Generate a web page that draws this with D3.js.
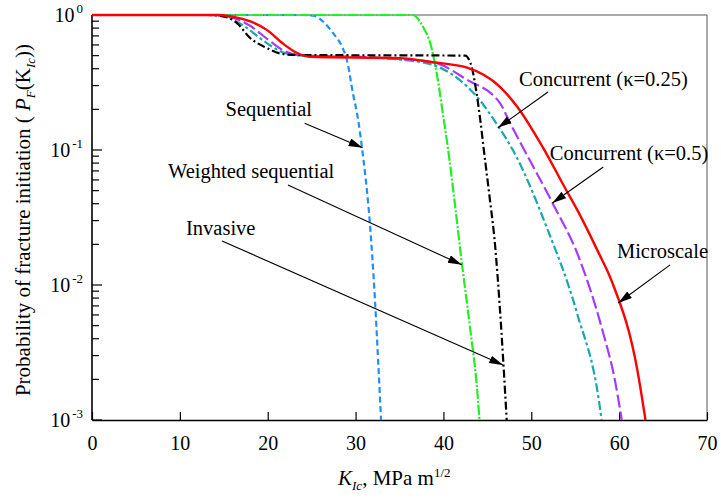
<!DOCTYPE html>
<html>
<head>
<meta charset="utf-8">
<script src="https://cdn.jsdelivr.net/npm/d3@7"></script>
<style>
  body { margin: 0; background: #fff; }
  svg { display: block; }
  text { font-family: "Liberation Serif", "Times New Roman", serif; fill: #000; }
</style>
</head>
<body>
<svg id="chart" width="721" height="500"></svg>
<script>
// fracture initiation probability vs toughness

const xTicks = [0, 10, 20, 30, 40, 50, 60, 70];
const yDecades = [1e-3, 1e-2, 1e-1, 1];
const yExponents = ["-3", "-2", "-1", "0"];

const sequentialK = [0, 24, 25.2, 26.5, 27.4, 28.5, 29, 29.7, 30.3, 30.8, 31.6, 32.2, 32.6, 32.9];
const sequentialP = [1, 1, 0.99, 0.87, 0.74, 0.575, 0.468, 0.263, 0.166, 0.0955, 0.0302, 0.0079, 0.0025, 0.001];

const weightedK = [0, 36.5, 37, 37.7, 38.5, 39.3, 40, 40.5, 41.3, 42.1, 43, 43.9, 44.1];
const weightedP = [1, 1, 0.955, 0.81, 0.62, 0.35, 0.174, 0.105, 0.04, 0.0145, 0.005, 0.0015, 0.001];

const invasiveK = [0, 13, 15, 16.5, 18, 19.9, 21.4, 23, 42.5, 42.9, 43.2, 43.7, 44.2, 44.6, 45.2, 45.9, 46.4, 46.8, 47.2];
const invasiveP = [1, 1, 0.977, 0.871, 0.676, 0.569, 0.519, 0.506, 0.5, 0.468, 0.417, 0.282, 0.166, 0.1, 0.0479, 0.019, 0.0071, 0.0028, 0.001];

const conc25K = [0, 13.5, 15.5, 17.5, 19.5, 21.5, 23.5, 30, 35, 38.8, 42.7, 44, 46.2, 47.9, 51.8, 55.2, 57.8, 58];
const conc25P = [1, 1, 0.955, 0.813, 0.646, 0.537, 0.501, 0.49, 0.468, 0.427, 0.295, 0.24, 0.151, 0.1, 0.0263, 0.0062, 0.00125, 0.001];

const conc50K = [0, 14, 16, 18, 20, 22, 24, 30, 35, 38.8, 42.7, 46.4, 47.6, 49.2, 52.4, 55.5, 58.2, 59.5, 60.3];
const conc50P = [1, 1, 0.955, 0.832, 0.661, 0.537, 0.501, 0.49, 0.472, 0.447, 0.331, 0.224, 0.158, 0.1, 0.0407, 0.0155, 0.00437, 0.002, 0.001];

const microK = [0, 14.5, 16.5, 18.5, 19.9, 21.7, 23.3, 24.8, 35, 38.8, 42.7, 46.4, 48.4, 51.3, 54, 55.2, 57.5, 59.2, 62.1, 63];
const microP = [1, 1, 0.955, 0.871, 0.776, 0.617, 0.525, 0.49, 0.479, 0.447, 0.407, 0.295, 0.209, 0.105, 0.0501, 0.0363, 0.0182, 0.0105, 0.00229, 0.001];

// label, text anchor [K,P], arrow start [K,P], arrow tip [K,P]
const noteLabels = ["Sequential", "Weighted sequential", "Invasive", "Concurrent (\u03ba=0.25)", "Concurrent (\u03ba=0.5)", "Microscale"];
const noteText = [[15.2, 0.18], [8.65, 0.062], [10.7, 0.0235], [48.6, 0.298], [52.1, 0.0843], [59.75, 0.0158]];
const noteFrom = [[24.2, 0.158], [22.3, 0.055], [14.8, 0.0212], [51.9, 0.269], [58.2, 0.0748], [65.8, 0.0141]];
const noteTo = [[30.8, 0.104], [42.1, 0.0141], [46.8, 0.00255], [46.2, 0.146], [52.4, 0.0405], [59.9, 0.00736]];

const series = [
  { k: sequentialK, p: sequentialP, color: "#1f8fff", dash: "6,3.5", width: 2.2 },
  { k: weightedK, p: weightedP, color: "#22ee22", dash: "10,2,2,2", width: 2.2 },
  { k: conc25K, p: conc25P, color: "#1aa9aa", dash: "9,3,3,3", width: 2.2 },
  { k: conc50K, p: conc50P, color: "#a33cff", dash: "13,4", width: 2.2 },
  { k: invasiveK, p: invasiveP, color: "#000000", dash: "8,3,2,3", width: 2.2 },
  { k: microK, p: microP, color: "#ff0000", dash: null, width: 2.4 }
];

const svg = d3.select("#chart");
const m = { left: 92, right: 707, top: 15, bottom: 420 };

const x = d3.scaleLinear().domain([0, 70]).range([m.left, m.right]);
const y = d3.scaleLog().domain([1e-3, 1]).range([m.bottom, m.top]);

const defs = svg.append("defs");
defs.append("clipPath").attr("id", "plot")
  .append("rect").attr("x", m.left).attr("y", m.top - 2).attr("width", m.right - m.left).attr("height", m.bottom - m.top + 2);

const marker = defs.append("marker")
  .attr("id", "head")
  .attr("markerUnits", "userSpaceOnUse")
  .attr("markerWidth", 15).attr("markerHeight", 10)
  .attr("refX", 14).attr("refY", 4)
  .attr("orient", "auto");
marker.append("path").attr("d", "M0,0L14,4L0,8Z").attr("fill", "#000");

// frame (top and right are thin)
svg.append("line").attr("x1", m.left).attr("x2", m.right).attr("y1", m.top).attr("y2", m.top)
  .attr("stroke", "#555").attr("stroke-width", 1);
svg.append("line").attr("x1", m.right).attr("x2", m.right).attr("y1", m.top).attr("y2", m.bottom)
  .attr("stroke", "#555").attr("stroke-width", 1);

// bottom axis, ticks pointing inward
const xAxis = svg.append("g")
  .attr("transform", `translate(0,${m.bottom})`)
  .call(d3.axisBottom(x).tickValues(xTicks).tickSizeInner(-8).tickSizeOuter(0).tickPadding(16));
xAxis.select(".domain").attr("stroke", "#000").attr("stroke-width", 1.6);
xAxis.selectAll(".tick line").attr("stroke-width", 1.2);
xAxis.selectAll("text").attr("font-size", 20).attr("font-family", "Liberation Serif");

// left axis with log minor ticks
const yMinor = [];
yDecades.slice(0, 3).forEach(d => { for (let j = 2; j <= 9; j++) yMinor.push(d * j); });
const yAxis = svg.append("g").attr("transform", `translate(${m.left},0)`);
yAxis.append("line").attr("x1", 0).attr("x2", 0).attr("y1", m.top).attr("y2", m.bottom)
  .attr("stroke", "#000").attr("stroke-width", 1.6);
yAxis.selectAll(".minor").data(yMinor).join("line")
  .attr("x1", 0).attr("x2", 7).attr("y1", d => y(d)).attr("y2", d => y(d))
  .attr("stroke", "#000").attr("stroke-width", 1.2);
yAxis.selectAll(".major").data(yDecades).join("line")
  .attr("x1", 0).attr("x2", 10).attr("y1", d => y(d)).attr("y2", d => y(d))
  .attr("stroke", "#000").attr("stroke-width", 1.2);
const yLab = yAxis.selectAll(".lab").data(yDecades).join("text")
  .attr("x", -9).attr("y", d => y(d) + 7).attr("text-anchor", "end").attr("font-size", 20);
yLab.append("tspan").text("10");
yLab.append("tspan").attr("dx", 2).attr("dy", -9).attr("font-size", 13).text((d, i) => yExponents[i]);

// curves
const line = d3.line()
  .x(d => x(d[0]))
  .y(d => y(d[1]))
  .curve(d3.curveMonotoneX);

const curves = svg.append("g").attr("clip-path", "url(#plot)");
series.forEach(s => {
  const pts = s.k.map((k, i) => [k, s.p[i]]);
  curves.append("path")
    .attr("d", line(pts))
    .attr("fill", "none")
    .attr("stroke", s.color)
    .attr("stroke-width", s.width)
    .attr("stroke-dasharray", s.dash)
    .attr("stroke-linejoin", "round");
});

// annotations
const notes = svg.append("g");
noteLabels.forEach((label, i) => {
  notes.append("text")
    .attr("x", x(noteText[i][0])).attr("y", y(noteText[i][1]))
    .attr("font-size", 20.5)
    .text(label);
  notes.append("line")
    .attr("x1", x(noteFrom[i][0])).attr("y1", y(noteFrom[i][1]))
    .attr("x2", x(noteTo[i][0])).attr("y2", y(noteTo[i][1]))
    .attr("stroke", "#000").attr("stroke-width", 1.1)
    .attr("marker-end", "url(#head)");
});

// axis titles
const xt = svg.append("text").attr("x", 338).attr("y", 485).attr("font-size", 21);
xt.append("tspan").attr("font-style", "italic").text("K");
xt.append("tspan").attr("font-style", "italic").attr("font-size", 13).attr("dy", 5).text("Ic");
xt.append("tspan").attr("dy", -5).text(", MPa m");
xt.append("tspan").attr("font-size", 13).attr("dy", -8).text("1/2");

const yt = svg.append("text")
  .attr("transform", "translate(30,220) rotate(-90)")
  .attr("text-anchor", "middle").attr("font-size", 21);
yt.append("tspan").text("Probability of fracture initiation ( ");
yt.append("tspan").attr("font-style", "italic").text("P");
yt.append("tspan").attr("font-style", "italic").attr("font-size", 13).attr("dy", 5).text("F");
yt.append("tspan").attr("dy", -5).text("(K");
yt.append("tspan").attr("font-style", "italic").attr("font-size", 13).attr("dy", 5).text("Ic");
yt.append("tspan").attr("dy", -5).text("))");
</script>
</body>
</html>
